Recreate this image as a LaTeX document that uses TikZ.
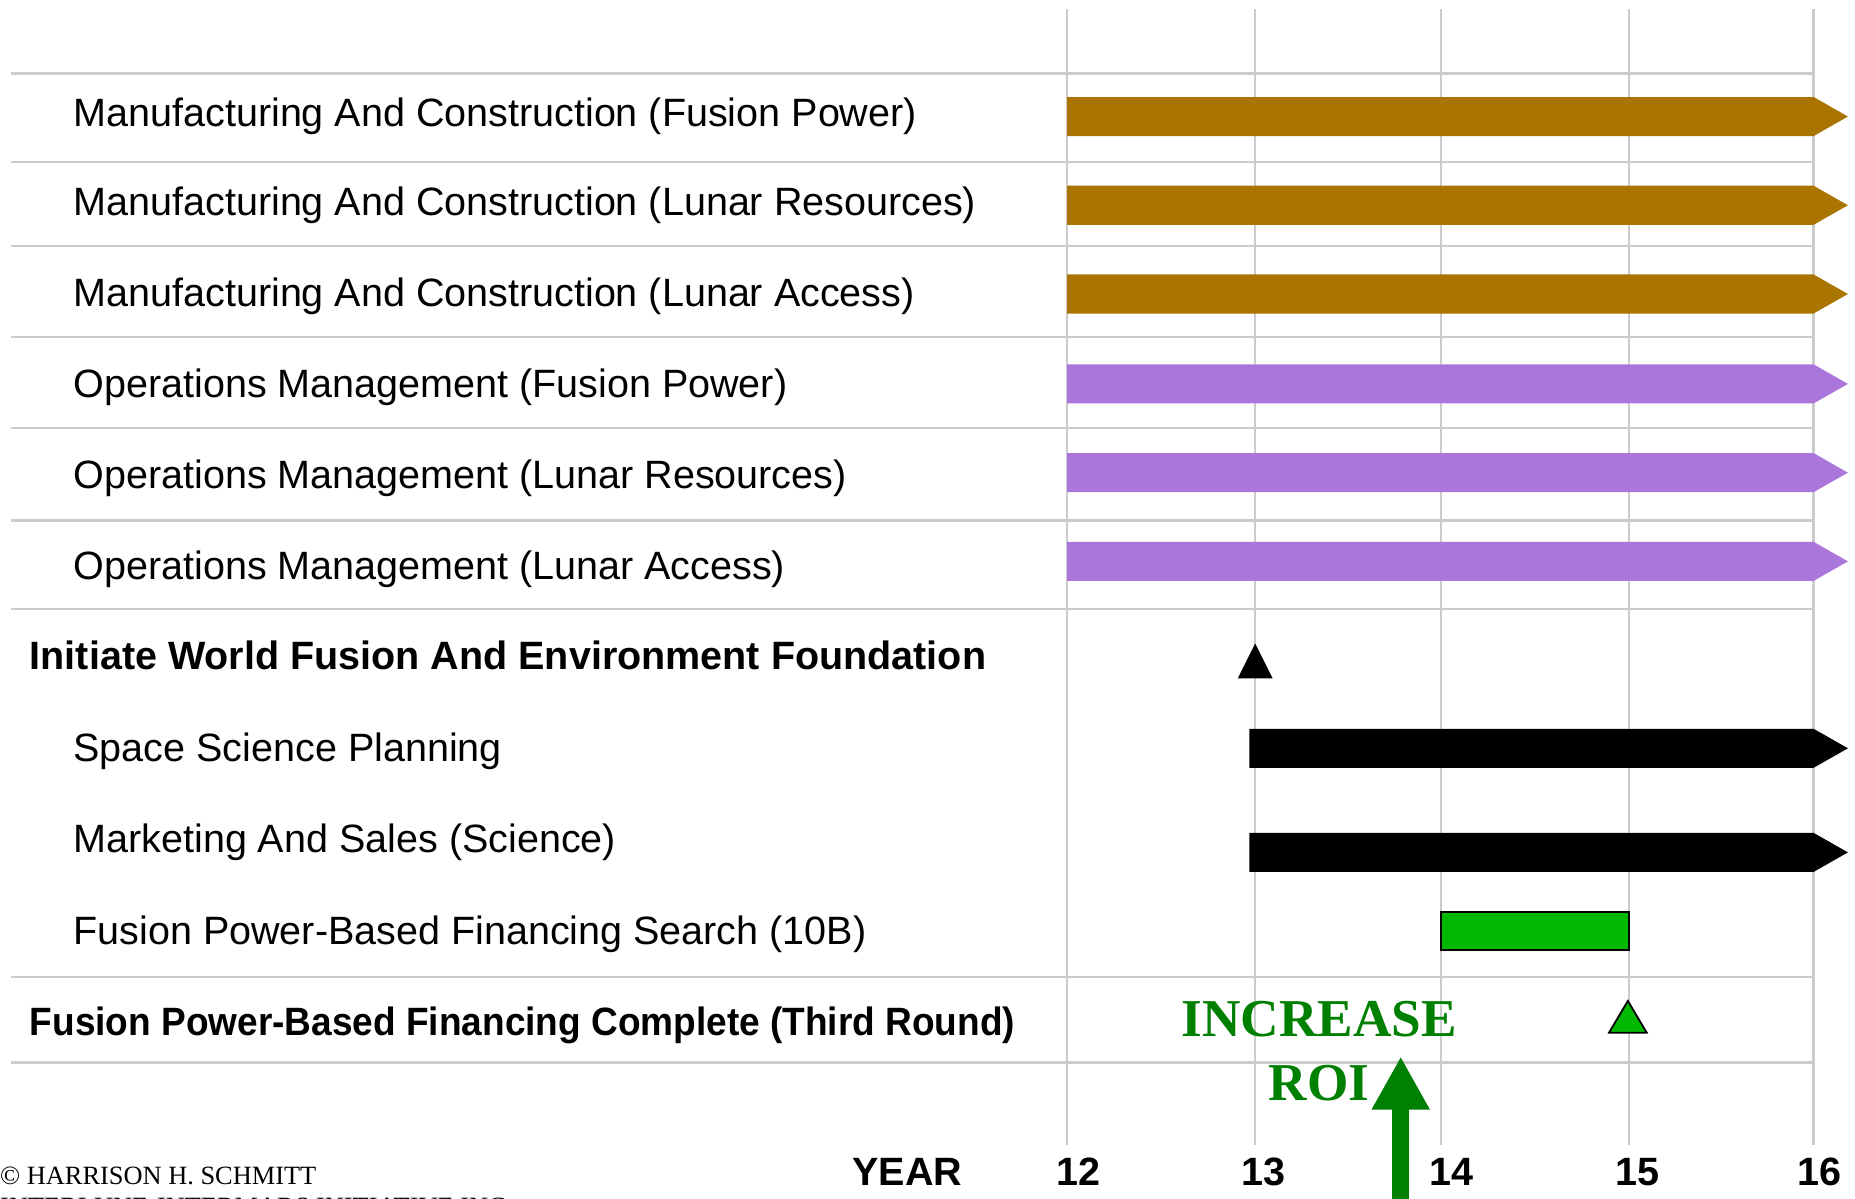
\documentclass[tikz,border=0pt]{standalone}
\usepackage{fontspec}
\setmainfont{Liberation Sans}
\newfontfamily\serifface{Liberation Serif}
\usetikzlibrary{arrows.meta}

\definecolor{brownbar}{RGB}{170,116,0}
\definecolor{purplebar}{RGB}{170,118,219}
\definecolor{greenbar}{RGB}{0,184,0}
\definecolor{roigreen}{RGB}{0,128,0}
\definecolor{gridgray}{RGB}{204,204,204}

\begin{document}
\begin{tikzpicture}[x=1pt,y=-1pt,
  gridline/.style={draw=gridgray, line width=2pt},
  task/.style={anchor=base west, inner sep=0pt, font=\fontsize{33.4}{40}\selectfont},
  milestone/.style={anchor=base west, inner sep=0pt, font=\fontsize{33.4}{40}\selectfont\bfseries},
  yearlbl/.style={anchor=base, inner sep=0pt, font=\fontsize{33.4}{40}\selectfont\bfseries},
  roilbl/.style={anchor=base, inner sep=0pt, text=roigreen, font=\serifface\bfseries\fontsize{45}{50}\selectfont},
  credit/.style={anchor=base west, inner sep=0pt, font=\serifface\fontsize{22.3}{26}\selectfont},
  markerblack/.style={fill=black, draw=black, line width=1pt, line join=miter},
  markergreen/.style={fill=greenbar, draw=black, line width=1.5pt, line join=miter},
]
% page area
\fill[white] (0,0) rectangle (1568,1013);
\useasboundingbox (0,0) rectangle (1568,1013);
\clip (0,0) rectangle (1568,1013);

% year grid
\foreach \gx in {902,1061,1218,1377,1533}
  \draw[gridline] (\gx,8) -- (\gx,968);
\foreach \gy in {62,137,208,285,362,440,515,826,898}
  \draw[gridline] (9,\gy) -- (1533,\gy);

% ongoing activities (bars running past year 16)
\foreach \yt/\xs/\col in {82/902/brownbar,157/902/brownbar,232/902/brownbar,
                          308/902/purplebar,383/902/purplebar,458/902/purplebar,
                          616/1056/black,704/1056/black}
  \fill[\col] (\xs,\yt) -- (1533,\yt) -- (1562,{\yt+16.5}) -- (1533,{\yt+33})
              -- (\xs,{\yt+33}) -- cycle;

% financing search, years 14 to 15
\filldraw[fill=greenbar, draw=black, line width=1.5pt] (1218,771) rectangle (1377,803);

% milestones
\filldraw[markerblack] (1047,573) -- (1061,545) -- (1075,573) -- cycle;
\filldraw[markergreen] (1360,873) -- (1376,846) -- (1392,873) -- cycle;

% activity labels
\node[task] (t1) at (62,107) {Manufacturing And Construction (Fusion Power)};
\node[task] (t2) at (62,182) {Manufacturing And Construction (Lunar Resources)};
\node[task] (t3) at (62,259) {Manufacturing And Construction (Lunar Access)};
\node[task] (t4) at (62,336) {Operations Management (Fusion Power)};
\node[task] (t5) at (62,413) {Operations Management (Lunar Resources)};
\node[task] (t6) at (62,490) {Operations Management (Lunar Access)};
\node[milestone] (m1) at (25,566) {Initiate World Fusion And Environment Foundation};
\node[task] (t7) at (62,644) {Space Science Planning};
\node[task] (t8) at (62,721) {Marketing And Sales (Science)};
\node[task] (t9) at (62,798) {Fusion Power-Based Financing Search (10B)};
\node[milestone] (m2) at (25,875) {\scalebox{0.937}[1]{Fusion Power-Based Financing Complete (Third Round)}};

% year axis
\node[yearlbl] (yr) at (767,1002) {YEAR};
\node[yearlbl] (y12) at (912,1002) {12};
\node[yearlbl] (y13) at (1068,1002) {13};
\node[yearlbl] (y14) at (1227,1002) {14};
\node[yearlbl] (y15) at (1384,1002) {15};
\node[yearlbl] (y16) at (1538,1002) {16};

% return on investment callout
\node[roilbl] (inc) at (1115,876) {INCREASE};
\node[roilbl] (roi) at (1115,930) {ROI};
\coordinate (roifoot) at (1184,1030);
\coordinate (roitip) at (1184,893);
\draw[roigreen, line width=14pt, -{Triangle[width=46pt,length=45pt]}] (roifoot) -- (roitip);

% credit
\node[credit] (c1) at (0,1001) {© HARRISON H. SCHMITT};
\node[credit] (c2) at (0,1027) {INTERLUNE-INTERMARS INITIATIVE INC.};
\end{tikzpicture}
\end{document}
